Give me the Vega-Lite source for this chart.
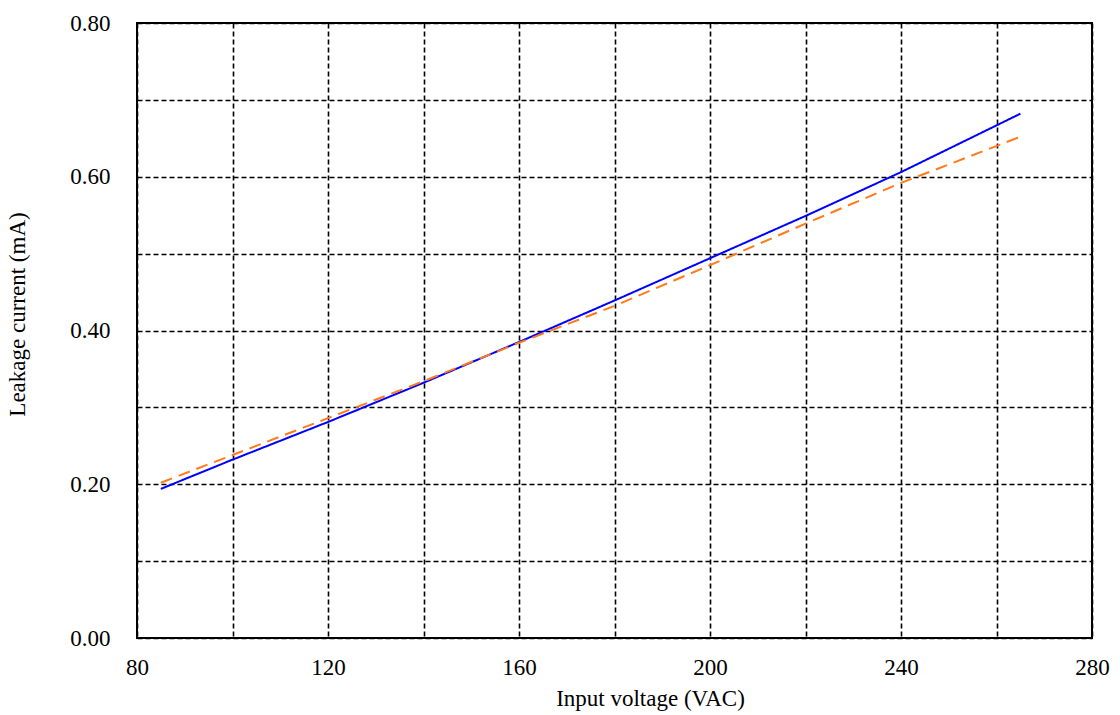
{
  "$schema": "https://vega.github.io/schema/vega-lite/v6.json",
  "autosize": {"type": "none"},
  "width": 955,
  "height": 615,
  "padding": {"left": 137, "top": 23, "right": 28, "bottom": 77},
  "background": "white",
  "config": {
    "font": "Liberation Serif",
    "view": {"stroke": "black", "strokeWidth": 2}
  },
  "data": {
    "values": [
      {"v": 85, "i": 0.194, "s": "Measured"},
      {"v": 100, "i": 0.232, "s": "Measured"},
      {"v": 120, "i": 0.281, "s": "Measured"},
      {"v": 140, "i": 0.332, "s": "Measured"},
      {"v": 160, "i": 0.385, "s": "Measured"},
      {"v": 180, "i": 0.439, "s": "Measured"},
      {"v": 200, "i": 0.494, "s": "Measured"},
      {"v": 220, "i": 0.549, "s": "Measured"},
      {"v": 240, "i": 0.606, "s": "Measured"},
      {"v": 265, "i": 0.682, "s": "Measured"},
      {"v": 85, "i": 0.202, "s": "Calculated"},
      {"v": 100, "i": 0.238, "s": "Calculated"},
      {"v": 120, "i": 0.286, "s": "Calculated"},
      {"v": 140, "i": 0.334, "s": "Calculated"},
      {"v": 160, "i": 0.384, "s": "Calculated"},
      {"v": 180, "i": 0.432, "s": "Calculated"},
      {"v": 200, "i": 0.485, "s": "Calculated"},
      {"v": 220, "i": 0.539, "s": "Calculated"},
      {"v": 240, "i": 0.592, "s": "Calculated"},
      {"v": 265, "i": 0.652, "s": "Calculated"}
    ]
  },
  "mark": {"type": "line", "strokeWidth": 2},
  "encoding": {
    "x": {
      "field": "v", "type": "quantitative",
      "scale": {"domain": [80, 280], "nice": false, "zero": false},
      "axis": {
        "title": "Input voltage (VAC)",
        "values": [80, 100, 120, 140, 160, 180, 200, 220, 240, 260, 280],
        "labelExpr": "datum.value % 40 == 0 ? datum.label : ''",
        "ticks": false,
        "domain": false,
        "grid": true,
        "gridColor": "black",
        "gridOpacity": 1,
        "gridWidth": 1.6,
        "gridDash": [5, 3],
        "labelFontSize": 23,
        "labelColor": "black",
        "labelPadding": 18,
        "labelFlush": false,
        "titleFontSize": 23,
        "titleFontWeight": "normal",
        "titleColor": "black",
        "titlePadding": 8,
        "titleX": 513
      }
    },
    "y": {
      "field": "i", "type": "quantitative",
      "scale": {"domain": [0, 0.8], "nice": false},
      "axis": {
        "title": "Leakage current (mA)",
        "values": [0, 0.1, 0.2, 0.3, 0.4, 0.5, 0.6, 0.7, 0.8],
        "labelExpr": "round(datum.value * 10) % 2 == 0 ? format(datum.value, '.2f') : ''",
        "ticks": false,
        "domain": false,
        "grid": true,
        "gridColor": "black",
        "gridOpacity": 1,
        "gridWidth": 1.6,
        "gridDash": [5, 3],
        "labelFontSize": 23,
        "labelColor": "black",
        "labelPadding": 27,
        "labelFlush": false,
        "titleFontSize": 23,
        "titleFontWeight": "normal",
        "titleColor": "black",
        "titlePadding": 40,
        "titleY": 291
      }
    },
    "color": {
      "field": "s", "type": "nominal",
      "scale": {"domain": ["Measured", "Calculated"], "range": ["#0000ff", "#ff7a1a"]},
      "legend": null
    },
    "strokeDash": {
      "field": "s", "type": "nominal",
      "scale": {"domain": ["Measured", "Calculated"], "range": [[1, 0], [12, 7]]},
      "legend": null
    }
  }
}
